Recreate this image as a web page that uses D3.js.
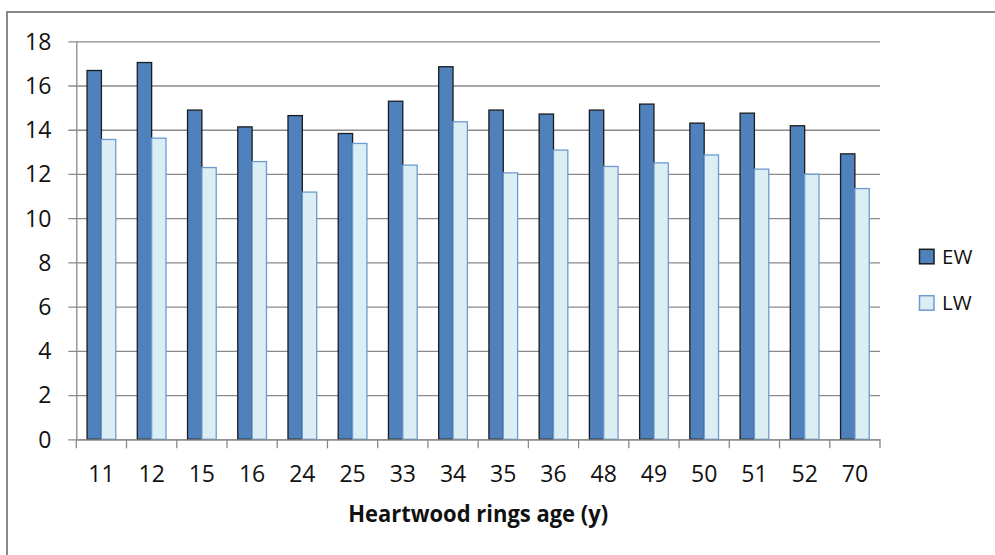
<!DOCTYPE html>
<html>
<head>
<meta charset="utf-8">
<script src="https://cdn.jsdelivr.net/npm/d3@7"></script>
<style>
  html, body { margin: 0; padding: 0; background: #fff; }
  svg { display: block; }
  text { font-family: "Open Sans", Lato, "DejaVu Sans", sans-serif; fill: #111; }
</style>
</head>
<body>
<svg id="chart" width="995" height="555"></svg>
<script>
// Heartwood ring ages (categories)
const ages = ["11", "12", "15", "16", "24", "25", "33", "34", "35", "36", "48", "49", "50", "51", "52", "70"];
// Earlywood and latewood values per age
const ewValues = [16.68, 17.04, 14.89, 14.13, 14.64, 13.83, 15.29, 16.85, 14.89, 14.71, 14.89, 15.16, 14.30, 14.75, 14.18, 12.91];
const lwValues = [13.56, 13.62, 12.29, 12.56, 11.18, 13.38, 12.40, 14.36, 12.05, 13.08, 12.34, 12.50, 12.86, 12.22, 11.99, 11.34];
const seriesNames = ["EW", "LW"];
const yTicks = [0, 2, 4, 6, 8, 10, 12, 14, 16, 18];
const xTitle = "Heartwood rings age (y)";

const svg = d3.select("#chart");

const plot = { left: 76.3, right: 880, top: 41.3, bottom: 439.3 };
const axisFont = "'Open Sans', Lato, sans-serif";

// outer frame (right and bottom edges fall outside the view)
svg.append("rect")
  .attr("x", 7).attr("y", 12)
  .attr("width", 1100).attr("height", 700)
  .attr("fill", "none")
  .attr("stroke", "#8a8a8a")
  .attr("stroke-width", 2);

const x = d3.scaleBand().domain(ages).range([plot.left, plot.right]).padding(0);
const xs = d3.scaleBand().domain(seriesNames).range([0, x.bandwidth()])
  .paddingInner(0).paddingOuter(0.75);
const y = d3.scaleLinear().domain([0, 18]).range([plot.bottom, plot.top]);

// horizontal gridlines with short left tick marks
const yAxis = d3.axisLeft(y).tickValues(yTicks)
  .tickSize(-(plot.right - plot.left)).tickSizeOuter(0).tickPadding(25);
const gy = svg.append("g").attr("transform", `translate(${plot.left},0)`).call(yAxis);
gy.select(".domain").attr("stroke", "#8a8a8a").attr("stroke-width", 1.3);
gy.selectAll(".tick line")
  .attr("x1", -8)
  .attr("stroke", "#8a8a8a").attr("stroke-width", 1.3);
gy.selectAll(".tick text")
  .attr("font-size", 23)
  .attr("font-family", axisFont)
  .attr("fill", "#111")
  .attr("x", -25)
  .attr("dy", "0.34em");

// bars
const rows = ages.map((a, i) => ({ age: a, EW: ewValues[i], LW: lwValues[i] }));
const fills = { EW: "#4F81BD", LW: "#DBEEF4" };
const strokes = { EW: "#1c1c1c", LW: "#6E9AD3" };

const groups = svg.append("g").selectAll("g")
  .data(rows).join("g")
  .attr("transform", d => `translate(${x(d.age)},0)`);

groups.selectAll("rect")
  .data(d => seriesNames.map(s => ({ s, v: d[s] })))
  .join("rect")
  .attr("x", d => xs(d.s))
  .attr("width", xs.bandwidth())
  .attr("y", d => y(d.v))
  .attr("height", d => y(0) - y(d.v))
  .attr("fill", d => fills[d.s])
  .attr("stroke", d => strokes[d.s])
  .attr("stroke-width", 1.3);

// category axis with ticks between categories
const xAxis = d3.axisBottom(x).tickSize(0).tickPadding(26);
const gx = svg.append("g").attr("transform", `translate(0,${plot.bottom})`).call(xAxis);
gx.select(".domain").attr("stroke", "#8a8a8a").attr("stroke-width", 1.3);
gx.selectAll(".tick text")
  .attr("font-size", 23)
  .attr("font-family", axisFont)
  .attr("fill", "#111");
const boundaries = ages.map(a => x(a)).concat([plot.right]);
gx.selectAll(".sep").data(boundaries).join("line")
  .attr("class", "sep")
  .attr("x1", d => d).attr("x2", d => d)
  .attr("y1", 0).attr("y2", 9)
  .attr("stroke", "#8a8a8a").attr("stroke-width", 1.3);

// axis title
svg.append("text")
  .attr("x", (plot.left + plot.right) / 2)
  .attr("y", 522)
  .attr("text-anchor", "middle")
  .attr("font-size", 23)
  .attr("font-weight", "bold")
  .attr("textLength", 260)
  .attr("lengthAdjust", "spacingAndGlyphs")
  .text(xTitle);

// legend
const legend = svg.append("g");
const legendY = { EW: 249.3, LW: 295.7 };
seriesNames.forEach(s => {
  legend.append("rect")
    .attr("x", 919.5).attr("y", legendY[s])
    .attr("width", 14.5).attr("height", 14.5)
    .attr("fill", fills[s])
    .attr("stroke", strokes[s])
    .attr("stroke-width", 1.5);
  legend.append("text")
    .attr("x", 942)
    .attr("y", legendY[s] + 14.5)
    .attr("font-size", 20.5)
    .text(s);
});
</script>
</body>
</html>
